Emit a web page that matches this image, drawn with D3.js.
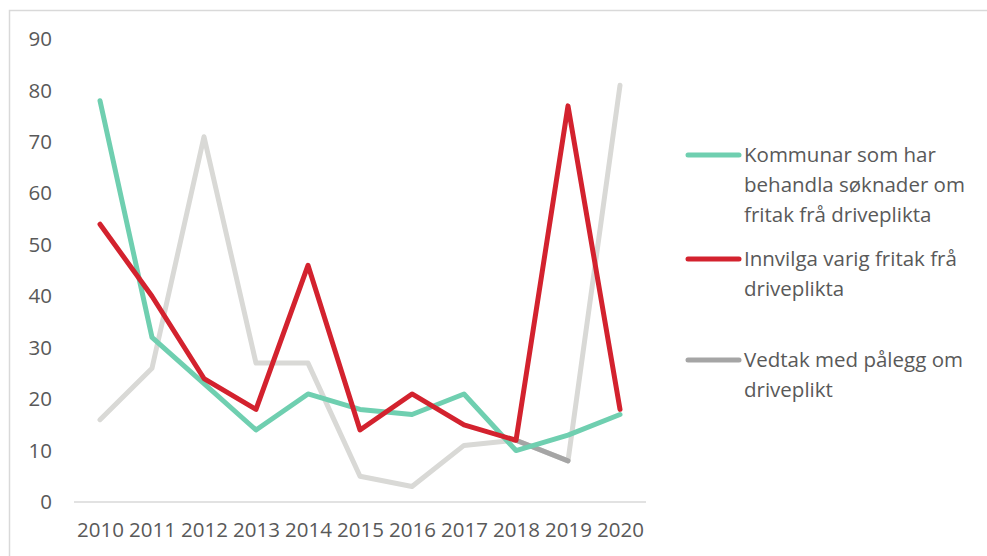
<!DOCTYPE html>
<html>
<head>
<meta charset="utf-8">
<script src="https://cdn.jsdelivr.net/npm/d3@7"></script>
<style>
  body { margin: 0; background: #fff; }
  text { font-family: "Open Sans", "Noto Sans", sans-serif; fill: #595959; }
</style>
</head>
<body>
<svg id="chart" width="987" height="556"></svg>
<script>
// data
var years = [2010, 2011, 2012, 2013, 2014, 2015, 2016, 2017, 2018, 2019, 2020];
var kommunar = [78, 32, 23, 14, 21, 18, 17, 21, 10, 13, 17];
var innvilga = [54, 40, 24, 18, 46, 14, 21, 15, 12, 77, 18];
var vedtak = [16, 26, 71, 27, 27, 5, 3, 11, 12, 8, 81];
var yTicks = [0, 10, 20, 30, 40, 50, 60, 70, 80, 90];

var series = [
  { name: ['Kommunar som har', 'behandla søknader om', 'fritak frå driveplikta'], values: kommunar, color: '#6fcfb0', legendY: 155 },
  { name: ['Innvilga varig fritak frå', 'driveplikta'], values: innvilga, color: '#d3222e', legendY: 259 },
  { name: ['Vedtak med pålegg om', 'driveplikt'], values: vedtak, color: '#a5a5a5', legendY: 360 }
];

var svg = d3.select('#chart'),
    fs = 20.5;

// outer frame
svg.append('rect')
  .attr('x', 9.5).attr('y', 10.5)
  .attr('width', 1000).attr('height', 600)
  .attr('fill', 'none').attr('stroke', '#d9d9d9').attr('stroke-width', 1.5);

var x = d3.scalePoint().domain(years).range([100, 620]);
var y = d3.scaleLinear().domain([0, 90]).range([502, 39]);

// baseline
svg.append('line')
  .attr('x1', 74).attr('x2', 646)
  .attr('y1', y(0)).attr('y2', y(0))
  .attr('stroke', '#d9d9d9').attr('stroke-width', 1.5);

// y labels
var yAxis = d3.axisLeft(y).tickValues(yTicks).tickSize(0).tickPadding(0);
var gy = svg.append('g').attr('transform', 'translate(52,0)').call(yAxis);
gy.select('.domain').remove();
gy.selectAll('text')
  .attr('font-size', fs).attr('font-family', null).attr('fill', '#595959');

// x labels
var xAxis = d3.axisBottom(x).tickSize(0).tickPadding(0).tickFormat(d3.format('d'));
var gx = svg.append('g').attr('transform', 'translate(0,530)').call(xAxis);
gx.select('.domain').remove();
gx.selectAll('text')
  .attr('font-size', fs).attr('font-family', null).attr('fill', '#595959')
  .attr('dy', '0.35em');

var line = d3.line()
  .x(function(d, i) { return x(years[i]); })
  .y(function(d) { return y(d); });

// draw gray first, then green, then red
var order = [2, 0, 1];
order.forEach(function(k) {
  var s = series[k];
  svg.append('path')
    .datum(s.values)
    .attr('d', line)
    .attr('fill', 'none')
    .attr('stroke', k == 2 ? '#d9d9d6' : s.color)
    .attr('stroke-width', 5)
    .attr('stroke-linejoin', 'round')
    .attr('stroke-linecap', 'round');
  if (k == 2) {
    // the 2018-2019 segment is drawn in the darker gray
    var i = years.indexOf(2018);
    svg.append('line')
      .attr('x1', x(years[i])).attr('y1', y(s.values[i]))
      .attr('x2', x(years[i + 1])).attr('y2', y(s.values[i + 1]))
      .attr('stroke', s.color).attr('stroke-width', 5)
      .attr('stroke-linecap', 'round');
  }
});

// legend
series.forEach(function(s) {
  svg.append('line')
    .attr('x1', 688).attr('x2', 739)
    .attr('y1', s.legendY).attr('y2', s.legendY)
    .attr('stroke', s.color).attr('stroke-width', 5)
    .attr('stroke-linecap', 'round');
  var t = svg.append('text')
    .attr('x', 744).attr('y', s.legendY)
    .attr('font-size', fs);
  s.name.forEach(function(ln, j) {
    t.append('tspan')
      .attr('x', 744)
      .attr('y', s.legendY + j * 30)
      .attr('dy', '0.35em')
      .text(ln);
  });
});
</script>
</body>
</html>
